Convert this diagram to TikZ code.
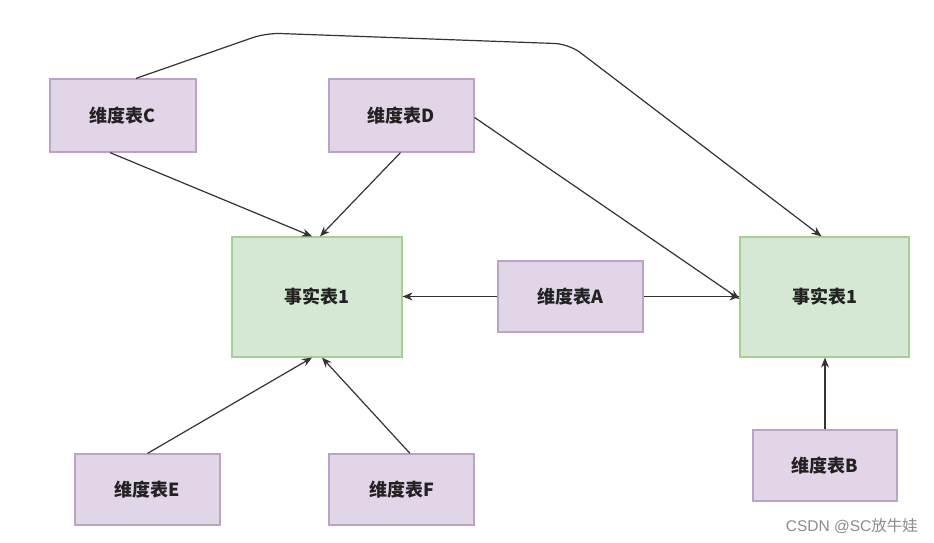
\documentclass[tikz,border=0pt]{standalone}
\usepackage{fontspec}
\setmainfont{Noto Sans CJK SC}
\newfontfamily\wmlatin{Liberation Sans}
\usetikzlibrary{arrows.meta}
\definecolor{dimfill}{HTML}{E1D5E7}
\definecolor{dimdraw}{HTML}{B9A3C8}
\definecolor{factfill}{HTML}{D5E8D4}
\definecolor{factdraw}{HTML}{A6CF94}
\definecolor{linec}{HTML}{333333}
\definecolor{txtc}{HTML}{222222}
\tikzset{
  dimbox/.style={draw=dimdraw, fill=dimfill, line width=1.2pt, minimum width=145pt, minimum height=72pt, inner sep=0pt, font=\fontsize{18}{21}\selectfont\bfseries, text=txtc},
  factbox/.style={draw=factdraw, fill=factfill, line width=1.2pt, minimum width=170pt, minimum height=120pt, inner sep=0pt, font=\fontsize{18}{21}\selectfont\bfseries, text=txtc},
  conn/.style={draw=linec, line width=1.2pt, -{Stealth[length=10pt,width=8pt]}}
}
\begin{document}
\begin{tikzpicture}[x=1pt,y=-1pt]
\useasboundingbox (0,0) rectangle (934,543);
\fill[white] (0,0) rectangle (934,543);
\node[dimbox, minimum width=146pt, minimum height=73pt] (C) at (123,115.5) {维度表C};
\node[dimbox, minimum height=73pt] (D) at (401.5,115.5) {维度表D};
\node[factbox] (L) at (317,297) {事实表1};
\node[dimbox, minimum height=71pt] (A) at (570.5,296.5) {维度表A};
\node[factbox, minimum width=169pt] (R) at (824.5,297) {事实表1};
\node[dimbox, minimum height=71pt] (E) at (147.5,489.5) {维度表E};
\node[dimbox, minimum height=71pt] (F) at (401.5,489.5) {维度表F};
\node[dimbox, minimum width=144pt, minimum height=71pt] (B) at (825,465.5) {维度表B};
\node[text=black!45, font=\fontsize{15.5}{18}\selectfont, anchor=east, inner sep=0pt] (wm) at (918,526) {{\wmlatin CSDN @SC}放牛娃};
\coordinate (k1) at (266,33);
\coordinate (k2) at (569,44);
\draw[conn, rounded corners=14pt] ([xshift=13pt]C.north) -- (k1) -- (k2) -- ([xshift=-3pt]R.north);
\draw[conn] ([xshift=-13pt]C.south) -- ([xshift=-5pt]L.north);
\draw[conn] ([xshift=-1pt]D.south) -- ([xshift=3pt]L.north);
\draw[conn] ([yshift=-2pt]D.east) -- ([yshift=-2pt]R.west);
\draw[conn] (A.west) -- (A.west -| L.east);
\draw[conn] (A.east) -- (A.east -| R.west);
\draw[conn] (E.north) -- ([xshift=-5pt]L.south);
\draw[conn] ([xshift=8.5pt]F.north) -- ([xshift=5pt]L.south);
\draw[conn] (B.north) -- (B.north |- R.south);
\end{tikzpicture}
\end{document}
